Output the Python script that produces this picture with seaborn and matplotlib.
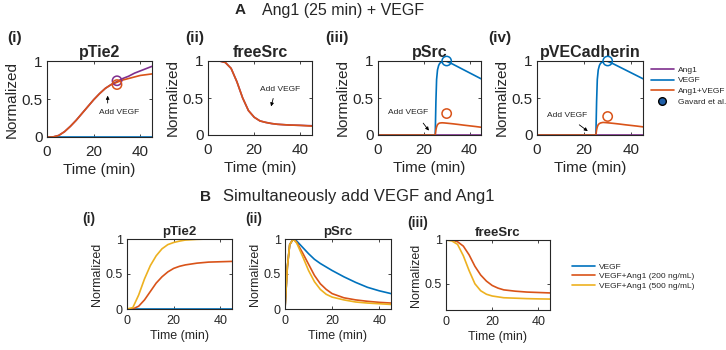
import matplotlib
matplotlib.use("Agg")
import matplotlib.pyplot as plt
import seaborn as sns

# MATLAB default colours
BLUE = "#0072BD"
ORANGE = "#D95319"
YELLOW = "#EDB120"
PURPLE = "#7E2F8E"
INK = "#262626"

# ---- Panel A data: Ang1 (25 min) + VEGF ----
t_a = [0, 2.5, 5, 7.5, 10, 12.5, 15, 17.5, 20, 22.5, 25, 27.5, 30, 32.5, 35, 37.5, 40, 42.5, 45]
tie2_ang1 = [0, 0, 0.02, 0.07, 0.14, 0.22, 0.31, 0.40, 0.49, 0.57, 0.64, 0.69, 0.73, 0.77, 0.80, 0.84, 0.87, 0.90, 0.93]
tie2_vegf = [0] * 19
tie2_both = [0, 0, 0.02, 0.07, 0.14, 0.22, 0.31, 0.40, 0.49, 0.57, 0.64, 0.69, 0.72, 0.75, 0.77, 0.79, 0.81, 0.82, 0.83]

t_free = [0, 2.5, 5, 7.5, 10, 12.5, 15, 17.5, 20, 22.5, 25, 27.5, 30, 35, 40, 45]
free_ang1 = [1, 1, 1, 0.98, 0.9, 0.72, 0.5, 0.33, 0.24, 0.19, 0.17, 0.155, 0.145, 0.135, 0.13, 0.125]
free_vegf = [1] * 16
free_both = [1, 1, 1, 0.98, 0.9, 0.72, 0.5, 0.33, 0.24, 0.19, 0.17, 0.155, 0.145, 0.135, 0.13, 0.12]

t_jump = [0, 25, 25.3, 25.6, 26, 26.5, 27, 28, 29, 30, 32.5, 35, 37.5, 40, 42.5, 45]
psrc_ang1 = [0] * 16
psrc_vegf = [0, 0, 0.45, 0.75, 0.88, 0.94, 0.97, 0.99, 1.0, 0.995, 0.96, 0.92, 0.88, 0.84, 0.80, 0.76]
psrc_both = [0, 0, 0.07, 0.11, 0.14, 0.155, 0.162, 0.165, 0.163, 0.16, 0.152, 0.143, 0.133, 0.124, 0.115, 0.105]
pve_ang1 = [0] * 16
pve_vegf = [0, 0, 0.45, 0.75, 0.88, 0.94, 0.97, 0.99, 1.0, 0.995, 0.96, 0.92, 0.88, 0.84, 0.80, 0.76]
pve_both = [0, 0, 0.07, 0.11, 0.14, 0.155, 0.163, 0.17, 0.168, 0.165, 0.157, 0.148, 0.138, 0.129, 0.12, 0.11]

# Gavard et al. measurements (t = 30 min)
gav_t = 30
gav_tie2 = [0.74, 0.69]   # Ang1, Ang1+VEGF
gav_psrc = [1.0, 0.29]    # VEGF, Ang1+VEGF
gav_pve = [1.0, 0.25]

# ---- Panel B data: VEGF and Ang1 together ----
t_b = [0, 2.5, 5, 7.5, 10, 12.5, 15, 17.5, 20, 22.5, 25, 30, 35, 40, 45]
btie2_vegf = [0] * 15
btie2_200 = [0, 0, 0.04, 0.13, 0.25, 0.37, 0.46, 0.53, 0.58, 0.61, 0.63, 0.655, 0.67, 0.675, 0.68]
btie2_500 = [0, 0.02, 0.2, 0.43, 0.62, 0.76, 0.86, 0.92, 0.95, 0.97, 0.985, 0.995, 1.0, 1.0, 1.0]

t_bsrc = [0, 1, 2, 3.5, 5, 7.5, 10, 12.5, 15, 17.5, 20, 25, 30, 35, 40, 45]
bsrc_vegf = [0, 0.6, 0.92, 1.0, 0.97, 0.88, 0.79, 0.71, 0.65, 0.60, 0.55, 0.46, 0.38, 0.31, 0.26, 0.22]
bsrc_200 = [0, 0.6, 0.92, 1.0, 0.95, 0.80, 0.64, 0.48, 0.36, 0.28, 0.22, 0.16, 0.13, 0.11, 0.095, 0.085]
bsrc_500 = [0, 0.6, 0.92, 1.0, 0.94, 0.75, 0.55, 0.39, 0.28, 0.21, 0.17, 0.13, 0.10, 0.085, 0.075, 0.065]

bfree_vegf = [1] * 15
bfree_200 = [1, 1, 0.98, 0.93, 0.83, 0.70, 0.60, 0.53, 0.48, 0.45, 0.43, 0.415, 0.405, 0.40, 0.395]
bfree_500 = [1, 0.99, 0.95, 0.82, 0.65, 0.50, 0.42, 0.38, 0.36, 0.35, 0.34, 0.335, 0.33, 0.327, 0.325]

legend_a = ["Ang1", "VEGF", "Ang1+VEGF", "Gavard et al."]
legend_b = ["VEGF", "VEGF+Ang1 (200 ng/mL)", "VEGF+Ang1 (500 ng/mL)"]

sns.set_style("ticks")
plt.rcParams["font.family"] = ["Liberation Sans", "DejaVu Sans"]
plt.rcParams["text.color"] = INK
plt.rcParams["axes.labelcolor"] = INK
plt.rcParams["xtick.color"] = INK
plt.rcParams["ytick.color"] = INK

W, H = 726, 350
fig = plt.figure(figsize=(W / 100, H / 100), dpi=100)


def px_axes(left, top, right, bottom):
    return fig.add_axes([left / W, 1 - bottom / H, (right - left) / W, (bottom - top) / H])


def style_axes(ax, title, ylim, yticks, yticklabels, big=True):
    fs = 11 if big else 9
    ax.set_xlim(0, 45)
    ax.set_ylim(*ylim)
    ax.set_xticks([0, 20, 40])
    ax.set_yticks(yticks)
    ax.set_yticklabels(yticklabels)
    ax.tick_params(direction="in", top=True, right=True, length=2.5, width=0.6,
                   labelsize=fs)
    ax.tick_params(axis="x", pad=6 if big else 4)
    ax.tick_params(axis="y", pad=3)
    for s in ax.spines.values():
        s.set_visible(True)
        s.set_linewidth(0.8)
        s.set_color(INK)
    ax.set_title(title, fontsize=fs + 0.5, fontweight="bold", pad=3)
    ax.set_xlabel("Time (min)", fontsize=fs, labelpad=2.5)
    ax.set_ylabel("Normalized", fontsize=fs, labelpad=2)


def line(ax, x, y, c):
    sns.lineplot(x=x, y=y, ax=ax, color=c, linewidth=1.2, legend=False)


def circle(ax, y, c):
    ax.scatter([gav_t], [y], s=45, facecolors="none", edgecolors=c, linewidths=1.1,
               zorder=5, clip_on=False)


def add_vegf(ax, text_xy, tail, head):
    ax.annotate("", xy=head, xytext=tail,
                arrowprops=dict(arrowstyle="-|>", color="black", lw=0.6,
                                mutation_scale=5))
    ax.text(*text_xy, "Add VEGF", fontsize=6, ha="center", va="center", color=INK)


# ---- Row A ----
ax1 = px_axes(47, 61, 152, 137)
line(ax1, t_a, tie2_ang1, PURPLE)
line(ax1, t_a, tie2_vegf, BLUE)
line(ax1, t_a, tie2_both, ORANGE)
circle(ax1, gav_tie2[0], PURPLE)
circle(ax1, gav_tie2[1], ORANGE)
add_vegf(ax1, (31, 0.32), (26, 0.41), (26, 0.58))
style_axes(ax1, "pTie2", (0, 1), [0, 0.5, 1], ["0", "0.5", "1"])

ax2 = px_axes(208, 61, 312, 135)
line(ax2, t_free, free_ang1, PURPLE)
line(ax2, t_free, free_vegf, BLUE)
line(ax2, t_free, free_both, ORANGE)
add_vegf(ax2, (31, 0.62), (28.5, 0.53), (27, 0.35))
style_axes(ax2, "freeSrc", (0, 1), [0, 0.5, 1], ["0", "0.5", "1"])

ax3 = px_axes(378, 61, 481, 135)
line(ax3, t_jump, psrc_ang1, PURPLE)
line(ax3, t_jump, psrc_vegf, BLUE)
line(ax3, t_jump, psrc_both, ORANGE)
circle(ax3, gav_psrc[0], BLUE)
circle(ax3, gav_psrc[1], ORANGE)
add_vegf(ax3, (13, 0.31), (19, 0.19), (23, 0.03))
style_axes(ax3, "pSrc", (0, 1), [0, 0.5, 1], ["0", "0.5", "1"])

ax4 = px_axes(537, 61, 643, 135)
line(ax4, t_jump, pve_ang1, PURPLE)
line(ax4, t_jump, pve_vegf, BLUE)
line(ax4, t_jump, pve_both, ORANGE)
circle(ax4, gav_pve[0], BLUE)
circle(ax4, gav_pve[1], ORANGE)
add_vegf(ax4, (12.7, 0.26), (17, 0.16), (22.5, 0.03))
style_axes(ax4, "pVECadherin", (0, 1), [0, 0.5, 1], ["0", "0.5", "1"])

handles_a = [
    plt.Line2D([], [], color=PURPLE, lw=1.2),
    plt.Line2D([], [], color=BLUE, lw=1.2),
    plt.Line2D([], [], color=ORANGE, lw=1.2),
    plt.Line2D([], [], marker="o", ls="none", markerfacecolor="#1f5fa8",
               markeredgecolor="black", markersize=5.5),
]
fig.legend(handles_a, legend_a, loc="upper left", bbox_to_anchor=(645 / W, 1 - 60 / H),
           frameon=False, fontsize=6, handlelength=2.8, handletextpad=0.5,
           labelspacing=0.35, borderpad=0.2)

# ---- Row B ----
bx1 = px_axes(127, 239, 232, 309)
line(bx1, t_b, btie2_vegf, BLUE)
line(bx1, t_b, btie2_200, ORANGE)
line(bx1, t_b, btie2_500, YELLOW)
style_axes(bx1, "pTie2", (0, 1), [0, 0.5, 1], ["0", "0.5", "1"], big=False)

bx2 = px_axes(285, 239, 391, 309)
line(bx2, t_bsrc, bsrc_vegf, BLUE)
line(bx2, t_bsrc, bsrc_200, ORANGE)
line(bx2, t_bsrc, bsrc_500, YELLOW)
style_axes(bx2, "pSrc", (0, 1), [0, 0.5, 1], ["0", "0.5", "1"], big=False)

bx3 = px_axes(446, 240, 550, 310)
line(bx3, t_b, bfree_vegf, BLUE)
line(bx3, t_b, bfree_200, ORANGE)
line(bx3, t_b, bfree_500, YELLOW)
style_axes(bx3, "freeSrc", (0.2, 1), [0.5, 1], ["0.5", "1"], big=False)

handles_b = [plt.Line2D([], [], color=c, lw=1.2) for c in (BLUE, ORANGE, YELLOW)]
fig.legend(handles_b, legend_b, loc="upper left", bbox_to_anchor=(566 / W, 1 - 257 / H),
           frameon=False, fontsize=6, handlelength=2.8, handletextpad=0.5,
           labelspacing=0.2, borderpad=0.2)

# ---- Section headings and panel labels ----
fig.text(235 / W, 1 - 10 / H, "A", fontsize=11, fontweight="bold", va="center")
fig.text(262 / W, 1 - 10 / H, "Ang1 (25 min) + VEGF", fontsize=11.5, va="center")
fig.text(200 / W, 1 - 197 / H, "B", fontsize=11, fontweight="bold", va="center")
fig.text(223 / W, 1 - 197 / H, "Simultaneously add VEGF and Ang1", fontsize=12, va="center")

for x, lab in [(7, "(i)"), (185, "(ii)"), (325, "(iii)"), (488, "(iv)")]:
    fig.text(x / W, 1 - 38 / H, lab, fontsize=11, fontweight="bold", va="center")
for x, y, lab in [(82, 219, "(i)"), (245, 219, "(ii)"), (407, 223, "(iii)")]:
    fig.text(x / W, 1 - y / H, lab, fontsize=10, fontweight="bold", va="center")

fig.savefig("out.png", dpi=100)
